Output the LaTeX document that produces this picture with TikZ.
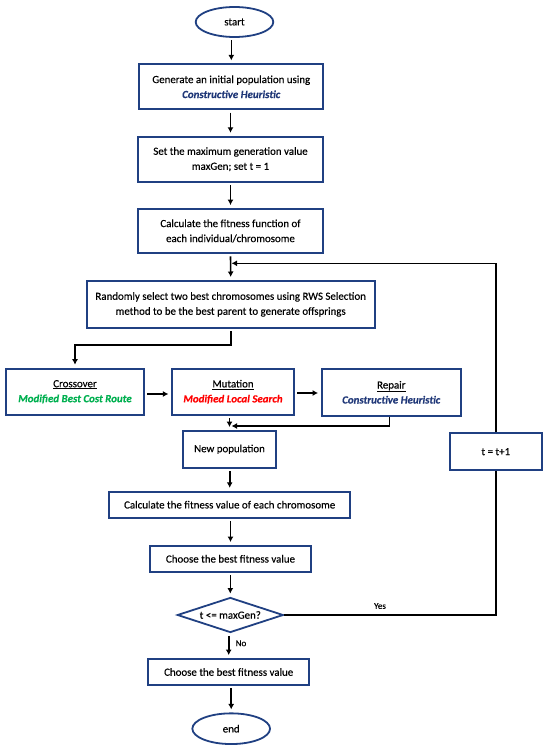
\documentclass[tikz,border=0pt]{standalone}
\usepackage{fontspec}
\setmainfont{Carlito}[FakeBold=0.3]
\usetikzlibrary{shapes.geometric,arrows.meta,calc}
\definecolor{bord}{RGB}{32,64,130}
\definecolor{chgreen}{RGB}{0,176,80}
\definecolor{chred}{RGB}{255,0,0}
\definecolor{chblue}{RGB}{32,56,120}
\tikzset{
  box/.style={draw=bord,line width=1.8pt,fill=white,inner sep=0pt,align=center,font=\fontsize{10.9}{15}\selectfont},
  term/.style={ellipse,draw=bord,line width=1.8pt,inner sep=0pt,font=\fontsize{10.9}{12}\selectfont},
  dec/.style={diamond,draw=bord,line width=1.8pt,inner sep=0pt,aspect=3,font=\fontsize{10.9}{12}\selectfont},
  arr/.style={draw=black,line width=1.6pt,-{Latex[length=5.5pt,width=6pt]},shorten <=2.5pt,shorten >=3pt},
  ln/.style={draw=black,line width=1.6pt},
  lab/.style={font=\fontsize{9}{10}\selectfont,inner sep=0pt},
}
\begin{document}
\begin{tikzpicture}[x=1pt,y=-1pt]
\useasboundingbox (0,0) rectangle (550,752);
\node[term,minimum width=77.6pt,minimum height=30pt] (start) at (234.5,22) {start};
\node[box,minimum width=184pt,minimum height=45pt] (b1) at (231.3,86.8) {Generate an initial population using\\\textcolor{chblue}{\textbf{\textit{Constructive Heuristic}}}};
\node[box,minimum width=184.4pt,minimum height=45pt] (b2) at (230.5,159.2) {Set the maximum generation value\\maxGen; set t = 1};
\node[box,minimum width=184.4pt,minimum height=44pt] (b3) at (230.5,231) {Calculate the fitness function of\\each individual/chromosome};
\node[box,minimum width=288pt,minimum height=47pt] (rws) at (230.7,304.4) {Randomly select two best chromosomes using RWS Selection\\method to be the best parent to generate offsprings};
\node[box,minimum width=137.6pt,minimum height=46.4pt] (cross) at (75,391.8) {\underline{Crossover}\\\textcolor{chgreen}{\textbf{\textit{Modified Best Cost Route}}}};
\node[box,minimum width=121.4pt,minimum height=46.4pt] (mut) at (233,391.8) {\underline{Mutation}\\\textcolor{chred}{\textbf{\textit{Modified Local Search}}}};
\node[box,minimum width=138.7pt,minimum height=47.4pt] (rep) at (391.3,392.3) {\underline{Repair}\\\textcolor{chblue}{\textbf{\textit{Constructive Heuristic}}}};
\node[box,minimum width=92.4pt,minimum height=36.7pt] (newp) at (229.5,449.3) {New population};
\node[box,minimum width=91.7pt,minimum height=36.7pt] (tinc) at (495.8,451.7) {t = t+1};
\node[box,minimum width=240.7pt,minimum height=26pt] (calc) at (229.7,504.7) {Calculate the fitness value of each chromosome};
\node[box,minimum width=161pt,minimum height=25.7pt] (ch1) at (230.5,558.8) {Choose the best fitness value};
\node[dec,minimum width=106pt,minimum height=35pt] (dia) at (230.3,615) {t <= maxGen?};
\node[box,minimum width=160.7pt,minimum height=26pt] (ch2) at (228.7,672) {Choose the best fitness value};
\node[term,minimum width=77.7pt,minimum height=30.7pt] (end) at (231.2,728.7) {end};
% connectors
\draw[arr] (start.south -| b1.north) -- (b1.north);
\draw[arr] (b1.south -| b2.north) -- (b2.north);
\draw[arr] (b2.south) -- (b3.north);
\draw[arr] (b3.south) -- (rws.north);
\coordinate (loopin) at (231.5,263.3);
\draw[arr,shorten >=0pt,shorten <=0pt] (tinc.north) |- (loopin);
\draw[arr] (rws.south) -- ++(0,16) -| (cross.north);
\draw[arr] (cross.east |- 0,394) -- (mut.west |- 0,394);
\draw[arr] (mut.east |- 0,393) -- (rep.west |- 0,393);
\coordinate (merge) at (231.5,426);
\draw[arr,shorten >=0pt,shorten <=0pt] (rep.south -| 389.5,0) |- (merge);
\draw[arr] (mut.south -| newp.north) -- (newp.north);
\draw[arr] (newp.south -| calc.north) -- (calc.north);
\draw[arr] (calc.south -| ch1.north) -- (ch1.north);
\draw[arr] (ch1.south -| dia.north) -- (dia.north);
\draw[ln] (dia.east) -- (dia.east -| tinc.south) -- (tinc.south);
\node[lab] (yes) at (380,606) {Yes};
\draw[arr] (dia.south -| ch2.north) -- (ch2.north);
\node[lab] (no) at (241,643.3) {No};
\draw[arr] (ch2.south -| end.north) -- (end.north);
\end{tikzpicture}
\end{document}
